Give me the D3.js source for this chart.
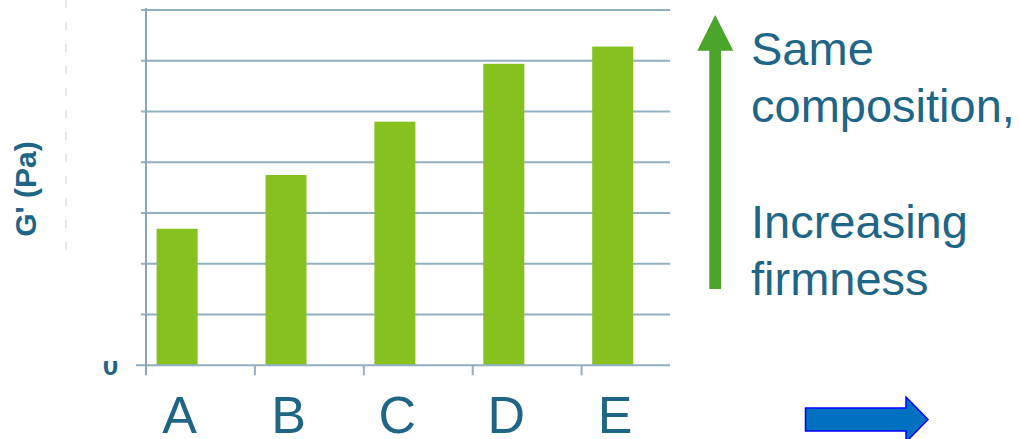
<!DOCTYPE html>
<html>
<head>
<meta charset="utf-8">
<script src="https://cdn.jsdelivr.net/npm/d3@7"></script>
<style>
  html, body { margin: 0; padding: 0; background: #ffffff; }
  svg { display: block; }
  text { font-family: "Liberation Sans", Arial, Helvetica, sans-serif; }
</style>
</head>
<body>
<svg id="chart" width="1019" height="439"></svg>
<script>
// Storage modulus per sample, in grid units
const categories = ["A", "B", "C", "D", "E"];
const firmness = [2.69, 3.75, 4.80, 5.94, 6.28];
const gridValues = [1, 2, 3, 4, 5, 6, 7];
const yTickLabels = ["0"];
const noteLines = ["Same", "composition,", "Increasing", "firmness"];

const TEXT = "#1f6586";
const GRID = "#93afc2";
const BAR = "#86c120";

const svg = d3.select("#chart");

const plot = { left: 146, right: 670, top: 10, bottom: 365.3 };

const x = d3.scaleBand()
  .domain(categories)
  .range([plot.left, plot.left + 5 * 108.9])
  .padding(0);

const y = d3.scaleLinear()
  .domain([0, 7])
  .range([plot.bottom, plot.top]);

// faint dashed guide left of the axis title
svg.append("line")
  .attr("x1", 66).attr("x2", 66)
  .attr("y1", 0).attr("y2", 262)
  .attr("stroke", "#d9e3ea")
  .attr("stroke-width", 1.5)
  .attr("stroke-dasharray", "8,14");

// horizontal grid lines
svg.append("g").selectAll("line")
  .data(gridValues)
  .join("line")
  .attr("x1", plot.left - 5)
  .attr("x2", plot.right)
  .attr("y1", d => y(d))
  .attr("y2", d => y(d))
  .attr("stroke", GRID)
  .attr("stroke-width", 2);

// bars
svg.append("g").selectAll("rect")
  .data(categories)
  .join("rect")
  .attr("x", (c) => x(c) + 10.6)
  .attr("width", 41)
  .attr("y", (c, i) => y(firmness[i]))
  .attr("height", (c, i) => y(0) - y(firmness[i]))
  .attr("fill", BAR);

// baseline
svg.append("line")
  .attr("x1", plot.left - 10).attr("x2", plot.right)
  .attr("y1", y(0)).attr("y2", y(0))
  .attr("stroke", GRID)
  .attr("stroke-width", 2);

// category tick marks between bands
svg.append("g").selectAll("line")
  .data(categories.slice(1))
  .join("line")
  .attr("x1", c => x(c)).attr("x2", c => x(c))
  .attr("y1", y(0)).attr("y2", y(0) + 10)
  .attr("stroke", GRID)
  .attr("stroke-width", 2);

// y axis line
svg.append("line")
  .attr("x1", plot.left).attr("x2", plot.left)
  .attr("y1", 8).attr("y2", y(0) + 10)
  .attr("stroke", "#86a6bb")
  .attr("stroke-width", 2);

// zero label, partly hidden by the frame edge
svg.append("clipPath").attr("id", "zeroClip")
  .append("rect").attr("x", 90).attr("y", 361).attr("width", 40).attr("height", 30);
svg.append("text")
  .attr("clip-path", "url(#zeroClip)")
  .attr("x", 110.5)
  .attr("y", 375)
  .attr("text-anchor", "middle")
  .attr("font-size", 28)
  .attr("font-weight", "bold")
  .attr("fill", TEXT)
  .text(yTickLabels[0]);

// y axis title
svg.append("text")
  .attr("transform", "translate(35.5,189) rotate(-90)")
  .attr("text-anchor", "middle")
  .attr("font-size", 30)
  .attr("font-weight", "bold")
  .attr("fill", TEXT)
  .text("G' (Pa)");

// category labels
svg.append("g").selectAll("text")
  .data(categories)
  .join("text")
  .attr("x", c => x(c) + 10.6 + 20.5 + 2.5)
  .attr("y", 432.5)
  .attr("text-anchor", "middle")
  .attr("font-size", 52)
  .attr("fill", TEXT)
  .text(c => c);

// green upward arrow
svg.append("path")
  .attr("d", "M709.3,289 L721,289 L721,50.7 L733.3,50.7 L715.2,15 L697.3,50.7 L709.3,50.7 Z")
  .attr("fill", "#4ba52b");

// annotation text
const noteY = [65, 122, 238, 295];
svg.append("g").selectAll("text")
  .data(noteLines)
  .join("text")
  .attr("x", 751)
  .attr("y", (d, i) => noteY[i])
  .attr("font-size", 47)
  .attr("fill", TEXT)
  .text(d => d);

// blue rightward arrow
svg.append("path")
  .attr("d", "M805.5,408 L906,408 L906,397 L928,419.5 L906,442 L906,431 L805.5,431 Z")
  .attr("fill", "#0070c0")
  .attr("stroke", "#0000ff")
  .attr("stroke-width", 1.5);
</script>
</body>
</html>
